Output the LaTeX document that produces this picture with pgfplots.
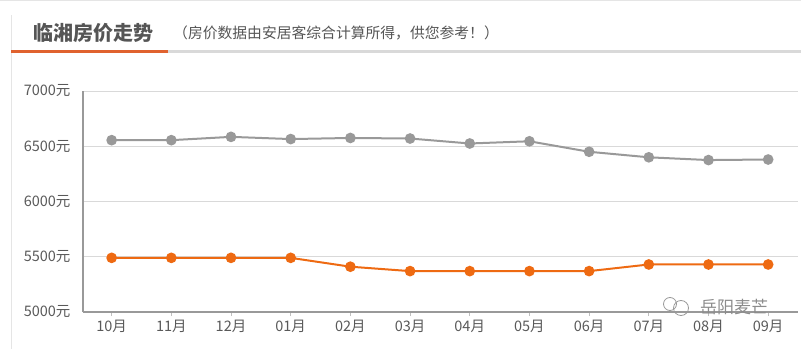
\documentclass[border=0pt]{standalone}
\usepackage{pgfplots}
\pgfplotsset{compat=1.18}
\usepackage{fontspec}
\setmainfont{Noto Sans CJK SC}
\definecolor{lgray}{HTML}{999999}
\definecolor{lorange}{HTML}{EE6A12}
\definecolor{uline}{HTML}{E0622F}
\definecolor{txt}{HTML}{555555}
\begin{document}
\begin{tikzpicture}[x=1pt,y=1pt]
\path[use as bounding box] (0,0) rectangle (801,349);
\draw[black!10, line width=1pt] (0,348.5) -- (801,348.5);
\draw[black!10, line width=1pt] (11,0) -- (11,334);
\draw[black!15, line width=3pt] (168,297) -- (801,297);
\draw[uline, line width=3pt] (11,297) -- (168,297);
\node[anchor=west, inner sep=0pt, font=\fontsize{20}{20}\selectfont\bfseries, text=txt] at (33,316.5) {临湘房价走势};
\node[anchor=west, inner sep=0pt, font=\fontsize{14.8}{14.8}\selectfont, text=txt] at (173,316.5) {（房价数据由安居客综合计算所得，供您参考！）};
\begin{axis}[
  at={(83pt,37pt)}, anchor=south west,
  scale only axis, width=715pt, height=221pt,
  xmin=-0.48, xmax=11.5, ymin=5000, ymax=7000,
  axis x line*=bottom, axis y line*=left,
  axis line style={draw=lgray, line width=1.6pt},
  ytick={5000,5500,6000,6500,7000},
  yticklabels={5000元,5500元,6000元,6500元,7000元},
  xtick={0,...,11},
  xticklabels={10月,11月,12月,01月,02月,03月,04月,05月,06月,07月,08月,09月},
  ymajorgrids, grid style={draw=black!15, line width=0.8pt},
  ytick style={draw=none},
  xtick style={draw=black!25, line width=0.8pt},
  tick align=outside, major tick length=4pt,
  ticklabel style={font=\fontsize{14.5}{14.5}\selectfont, text=black!65},
  yticklabel style={xshift=-5pt},
  xticklabel style={yshift=-1pt},
  clip=false,
]
\addplot[draw=lgray, line width=2pt, mark=*, mark size=4.3pt, mark options={fill=lgray, draw=lgray}]
coordinates {(0,6555)(1,6555)(2,6585)(3,6565)(4,6575)(5,6570)(6,6525)(7,6545)(8,6450)(9,6400)(10,6375)(11,6380)};
\addplot[draw=lorange, line width=2pt, mark=*, mark size=4.3pt, mark options={fill=lorange, draw=lorange}]
coordinates {(0,5490)(1,5490)(2,5490)(3,5490)(4,5410)(5,5370)(6,5370)(7,5370)(8,5370)(9,5430)(10,5430)(11,5430)};
\end{axis}
\node[anchor=west, inner sep=0pt, font=\fontsize{17}{17}\selectfont, text=black!45] at (700,42) {岳阳麦芒};
\draw[black!40, line width=0.8pt] (681,41) circle (7.5);
\draw[black!40, line width=0.8pt] (670,45) circle (6.5);
\end{tikzpicture}
\end{document}
